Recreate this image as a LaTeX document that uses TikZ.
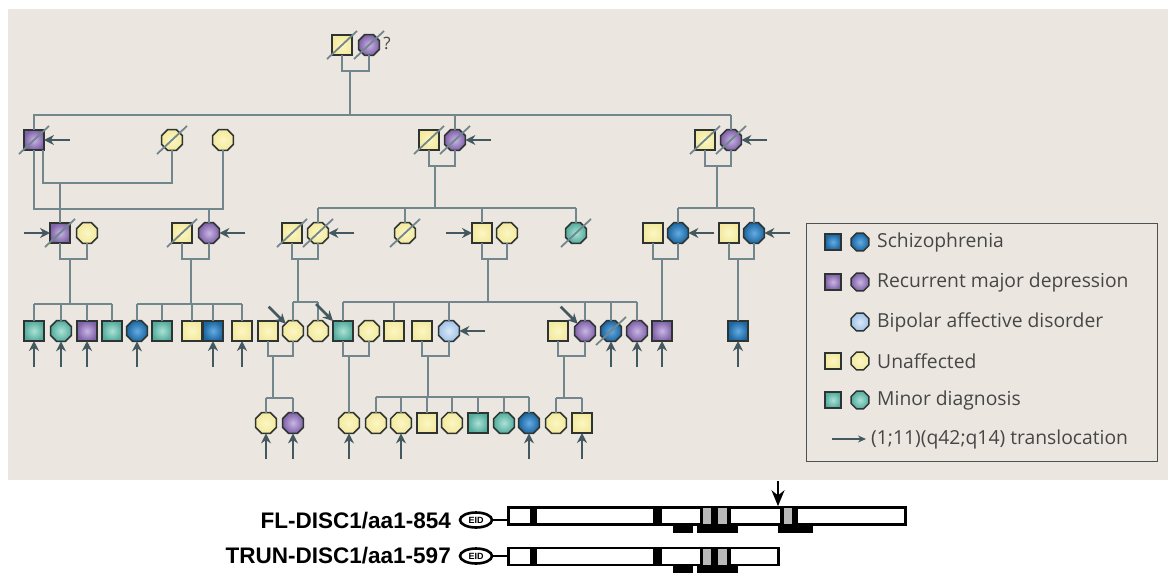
\documentclass[tikz,border=0pt]{standalone}
\usepackage{fontspec}
\setmainfont{Open Sans}
\newfontfamily\labfont{Liberation Sans}
\usetikzlibrary{shapes.geometric,calc,arrows.meta}
\definecolor{bgc}{RGB}{235,231,224}
\definecolor{lnc}{RGB}{114,134,142}
\definecolor{arc}{RGB}{68,88,96}
\definecolor{edgec}{RGB}{45,52,50}
\definecolor{yelI}{RGB}{252,247,195}
\definecolor{yelO}{RGB}{243,233,160}
\definecolor{purI}{RGB}{200,182,228}
\definecolor{purO}{RGB}{128,98,168}
\definecolor{tealI}{RGB}{172,226,214}
\definecolor{tealO}{RGB}{84,172,158}
\definecolor{bluI}{RGB}{100,172,226}
\definecolor{bluO}{RGB}{28,102,162}
\definecolor{lbI}{RGB}{218,232,248}
\definecolor{lbO}{RGB}{160,195,232}
\definecolor{txtc}{RGB}{70,70,70}
\newcommand{\dead}[1]{\draw[slash] ($(#1)+(-15,14)$) -- ($(#1)+(15,-14)$);}
\newcommand{\arR}[1]{\draw[tl] ($(#1.east)+(26,0)$) -- (#1.east);}
\newcommand{\arL}[1]{\draw[tl] ($(#1.west)+(-26,0)$) -- (#1.west);}
\newcommand{\arU}[1]{\draw[tl] ($(#1.south)+(0,26)$) -- (#1.south);}
\newcommand{\arD}[1]{\draw[tl] ($(#1.135)+(-17,-17)$) -- (#1.135);}
\newcommand{\mate}[3]{\draw[ln] (#1.south) -- (#1.south |- 0,#3) -| (#2.south);}
\newcommand{\drop}[2]{\draw[ln] (#1.north) -- (#1.north |- #2);}
\begin{document}
\begin{tikzpicture}[x=1pt,y=-1pt,
 sym/.style={draw=edgec, line width=1.5pt, inner sep=0pt, outer sep=0pt},
 sq/.style={sym, rectangle, minimum size=20pt},
 ci/.style={sym, regular polygon, regular polygon sides=8, minimum size=22.5pt},
 lsq/.style={sym, rectangle, minimum size=16pt},
 lci/.style={sym, regular polygon, regular polygon sides=8, minimum size=19pt},
 yel/.style={inner color=yelI, outer color=yelO},
 pur/.style={inner color=purI, outer color=purO},
 teal/.style={inner color=tealI, outer color=tealO},
 blu/.style={inner color=bluI, outer color=bluO},
 lbl/.style={inner color=lbI, outer color=lbO},
 ln/.style={draw=lnc, line width=2pt},
 tl/.style={draw=arc, line width=2.6pt, -{Stealth[length=10pt,width=10pt]}},
 slash/.style={draw=lnc, line width=1.8pt},
 legtext/.style={anchor=west, inner sep=0pt, text=txtc, font=\fontsize{19.3}{22}\selectfont},
 lab/.style={anchor=base east, inner sep=0pt, font=\labfont\bfseries\fontsize{22.5}{24}\selectfont},
 eid/.style={draw=black, ellipse, line width=2.6pt, minimum width=32pt, minimum height=15pt, inner sep=0pt, font=\labfont\bfseries\fontsize{9}{9}\selectfont},
 dbox/.style={draw=black, line width=2.6pt, fill=white, inner sep=0pt, minimum height=17pt, anchor=west},
]
\useasboundingbox (0,0) rectangle (1168,573);
\fill[white] (0,0) rectangle (1168,573);
\fill[bgc] (8,9) rectangle (1168,480);

% ---------- Generation I
\node[sq,yel] (g1a) at (342,45) {};
\node[ci,pur] (g1b) at (369,45) {};
\node[text=txtc, font=\fontsize{17}{20}\selectfont, inner sep=0pt] (q) at (387,43) {?};
\mate{g1a}{g1b}{71}
\coordinate (d1) at (350,71);
\coordinate (s1a) at (33,115); \coordinate (s1b) at (731,115);
\draw[ln] (d1) -- (d1 |- s1a);
\draw[ln] (s1a) -- (s1b);

% ---------- Generation II
\node[sq,pur] (g2a) at (34,140) {};
\node[ci,yel] (g2b) at (172,140) {};
\node[ci,yel] (g2c) at (223,140) {};
\node[sq,yel] (g2d) at (429,140) {};
\node[ci,pur] (g2e) at (455,140) {};
\node[sq,yel] (g2f) at (705,140) {};
\node[ci,pur] (g2g) at (731,140) {};
\drop{g2a}{s1a} \drop{g2e}{s1a} \drop{g2g}{s1a}

% ---------- Generation III
\node[sq,pur] (g3a) at (60,233) {};
\node[ci,yel] (g3b) at (87,233) {};
\node[sq,yel] (g3c) at (182,233) {};
\node[ci,pur] (g3d) at (209,233) {};
\node[sq,yel] (g3e) at (292,233) {};
\node[ci,yel] (g3f) at (318,233) {};
\node[ci,yel] (g3g) at (405,233) {};
\node[sq,yel] (g3h) at (482,233) {};
\node[ci,yel] (g3i) at (507,233) {};
\node[ci,teal] (g3j) at (576,233) {};
\node[sq,yel] (g3k) at (653,233) {};
\node[ci,blu] (g3l) at (678,233) {};
\node[sq,yel] (g3m) at (729,233) {};
\node[ci,blu] (g3n) at (754,233) {};

% gen II marriages
\coordinate (pa) at ($(g2a.south east)+(-1,0)$);
\draw[ln] (pa) -- (pa |- 0,183) -| (g2b.south);
\draw[ln] (g2a.south) -- (g2a.south |- 0,209) -| (g2c.south);
\coordinate (d2) at (60,183);
\draw[ln] (d2) -- (g3a.north);
\coordinate (d3) at (209,209);
\draw[ln] (d3) -- (g3d.north);
\mate{g2d}{g2e}{166}
\coordinate (d4) at (435,166);
\coordinate (s2a) at (318,208); \coordinate (s2b) at (576,208);
\draw[ln] (d4) -- (d4 |- s2a);
\draw[ln] (s2a) -- (s2b);
\drop{g3f}{s2a} \drop{g3g}{s2a} \drop{g3h}{s2a} \drop{g3j}{s2a}
\mate{g2f}{g2g}{166}
\coordinate (d5) at (717,166);
\coordinate (s3a) at (678,208); \coordinate (s3b) at (754,208);
\draw[ln] (d5) -- (d5 |- s3a);
\draw[ln] (s3a) -- (s3b);
\drop{g3l}{s3a} \drop{g3n}{s3a}

% ---------- Generation IV
\node[sq,teal] (g4a) at (34,331) {};
\node[ci,teal] (g4b) at (61,331) {};
\node[sq,pur] (g4c) at (87,331) {};
\node[sq,teal] (g4d) at (112,331) {};
\node[ci,blu] (g4e) at (137,331) {};
\node[sq,teal] (g4f) at (162,331) {};
\node[sq,yel] (g4g) at (192,331) {};
\node[sq,blu] (g4h) at (213,331) {};
\node[sq,yel] (g4i) at (242,331) {};
\node[sq,yel] (g4j) at (268,331) {};
\node[ci,yel] (g4k) at (293,331) {};
\node[ci,yel] (g4l) at (318,331) {};
\node[sq,teal] (g4m) at (343,331) {};
\node[ci,yel] (g4n) at (369,331) {};
\node[sq,yel] (g4o) at (394,331) {};
\node[sq,yel] (g4p) at (422,331) {};
\node[ci,lbl] (g4q) at (449,331) {};
\node[sq,yel] (g4r) at (558,331) {};
\node[ci,pur] (g4s) at (585,331) {};
\node[ci,blu] (g4t) at (611,331) {};
\node[ci,pur] (g4u) at (637,331) {};
\node[sq,pur] (g4v) at (662,331) {};
\node[sq,blu] (g4w) at (738,331) {};

% gen III marriages
\mate{g3a}{g3b}{259}
\coordinate (d6) at (70,259);
\coordinate (s4a) at (34,304); \coordinate (s4b) at (112,304);
\draw[ln] (d6) -- (d6 |- s4a);
\draw[ln] (s4a) -- (s4b);
\drop{g4a}{s4a} \drop{g4b}{s4a} \drop{g4c}{s4a} \drop{g4d}{s4a}
\mate{g3c}{g3d}{259}
\coordinate (d7) at (191,259);
\coordinate (s5a) at (137,304); \coordinate (s5b) at (242,304);
\draw[ln] (d7) -- (d7 |- s5a);
\draw[ln] (s5a) -- (s5b);
\drop{g4e}{s5a} \drop{g4f}{s5a} \drop{g4g}{s5a} \drop{g4h}{s5a} \drop{g4i}{s5a}
\mate{g3e}{g3f}{259}
\coordinate (d8) at (298,259);
\coordinate (s6a) at (293,302); \coordinate (s6b) at (318,302);
\draw[ln] (d8) -- (d8 |- s6a);
\draw[ln] (s6a) -- (s6b);
\drop{g4k}{s6a} \drop{g4l}{s6a}
\mate{g3h}{g3i}{259}
\coordinate (d9) at (488,259);
\coordinate (s7a) at (343,302); \coordinate (s7b) at (637,302);
\draw[ln] (d9) -- (d9 |- s7a);
\draw[ln] (s7a) -- (s7b);
\drop{g4m}{s7a} \drop{g4o}{s7a} \drop{g4q}{s7a} \drop{g4s}{s7a} \drop{g4t}{s7a} \drop{g4u}{s7a}
\mate{g3k}{g3l}{259}
\coordinate (d10) at (662,259);
\draw[ln] (d10) -- (g4v.north);
\mate{g3m}{g3n}{259}
\coordinate (d11) at (738,259);
\draw[ln] (d11) -- (g4w.north);

% ---------- Generation V
\node[ci,yel] (g5a) at (266,423) {};
\node[ci,pur] (g5b) at (293,423) {};
\node[ci,yel] (g5c) at (349,423) {};
\node[ci,yel] (g5d) at (376,423) {};
\node[ci,yel] (g5e) at (401,423) {};
\node[sq,yel] (g5f) at (427,423) {};
\node[ci,yel] (g5g) at (452,423) {};
\node[sq,teal] (g5h) at (478,423) {};
\node[ci,teal] (g5i) at (504,423) {};
\node[ci,blu] (g5j) at (529,423) {};
\node[ci,yel] (g5k) at (556,423) {};
\node[sq,yel] (g5l) at (582,423) {};

% gen IV marriages
\mate{g4j}{g4k}{356}
\coordinate (d12) at (273,356);
\coordinate (s8a) at (266,398); \coordinate (s8b) at (293,398);
\draw[ln] (d12) -- (d12 |- s8a);
\draw[ln] (s8a) -- (s8b);
\drop{g5a}{s8a} \drop{g5b}{s8a}
\mate{g4m}{g4n}{356}
\coordinate (d13) at (349,356);
\draw[ln] (d13) -- (g5c.north);
\mate{g4p}{g4q}{356}
\coordinate (d14) at (428,356);
\coordinate (s9a) at (376,397); \coordinate (s9b) at (529,397);
\draw[ln] (d14) -- (d14 |- s9a);
\draw[ln] (s9a) -- (s9b);
\drop{g5d}{s9a} \drop{g5e}{s9a} \drop{g5f}{s9a} \drop{g5g}{s9a} \drop{g5h}{s9a} \drop{g5i}{s9a} \drop{g5j}{s9a}
\mate{g4r}{g4s}{356}
\coordinate (d15) at (564,356);
\coordinate (s10a) at (556,398); \coordinate (s10b) at (582,398);
\draw[ln] (d15) -- (d15 |- s10a);
\draw[ln] (s10a) -- (s10b);
\drop{g5k}{s10a} \drop{g5l}{s10a}

% ---------- deceased
\dead{g1a} \dead{g1b} \dead{g2a} \dead{g2b} \dead{g2d} \dead{g2e} \dead{g2f} \dead{g2g}
\dead{g3a} \dead{g3c} \dead{g3e} \dead{g3f} \dead{g3g} \dead{g3j} \dead{g4t}

% ---------- translocation arrows
\arR{g2a} \arR{g2e} \arR{g2g} \arR{g3d} \arR{g3f} \arR{g3l} \arR{g3n} \arR{g4q}
\arL{g3a} \arL{g3h}
\arU{g4a} \arU{g4b} \arU{g4c} \arU{g4e} \arU{g4h} \arU{g4i} \arU{g4t} \arU{g4u} \arU{g4v} \arU{g4w}
\arU{g5a} \arU{g5b} \arU{g5c} \arU{g5e} \arU{g5j} \arU{g5l}
\arD{g4k} \arD{g4m} \arD{g4s}

% ---------- legend
\node[draw=edgec!85, line width=1.4pt, minimum width=351pt, minimum height=238pt, inner sep=0pt, anchor=north west] (leg) at (806,223) {};
\node[lsq,blu] (k1a) at (833,242) {}; \node[lci,blu] (k1b) at (860,242) {};
\node[legtext] (k1t) at (877,242) {Schizophrenia};
\node[lsq,pur] (k2a) at (833,282) {}; \node[lci,pur] (k2b) at (860,282) {};
\node[legtext] (k2t) at (877,282) {Recurrent major depression};
\node[lci,lbl] (k3b) at (860,322) {};
\node[legtext] (k3t) at (877,322) {Bipolar affective disorder};
\node[lsq,yel] (k4a) at (833,361) {}; \node[lci,yel] (k4b) at (860,361) {};
\node[legtext] (k4t) at (877,361) {Unaffected};
\node[lsq,teal] (k5a) at (833,400) {}; \node[lci,teal] (k5b) at (860,400) {};
\node[legtext] (k5t) at (877,400) {Minor diagnosis};
\coordinate (k6a) at (832,439); \coordinate (k6b) at (866,439);
\draw[draw=arc, line width=1.6pt, -{Stealth[length=8pt,width=7pt]}] (k6a) -- (k6b);
\node[legtext] (k6t) at (871,439) {(1;11)(q42;q14) translocation};

% ---------- DISC1 constructs
\node[lab] (t1) at (451,528) {FL-DISC1/aa1-854};
\node[lab] (t2) at (451,563) {TRUN-DISC1/aa1-597};
\node[eid] (e1) at (476,520) {EID};
\node[eid] (e2) at (476,556) {EID};
\node[dbox, minimum width=397pt] (b1) at (507,516) {};
\node[dbox, minimum width=270pt] (b2) at (507,556.5) {};
\draw[black, line width=2.2pt] (e1.east) -- (b1.west |- e1.east);
\draw[black, line width=2.2pt] (e2.east) -- (b2.west |- e2.east);
% internal bars, row 1
\fill[black] (530,508) rectangle (537,524);
\fill[black] (653,508) rectangle (662,524);
\fill[black] (700,508) rectangle (703,524);
\fill[gray!55] (703,508) rectangle (711,524);
\fill[black] (711,508) rectangle (718,524);
\fill[gray!55] (718,508) rectangle (727,524);
\fill[black] (727,508) rectangle (731,524);
\fill[black] (780,508) rectangle (784,524);
\fill[gray!55] (784,508) rectangle (792,524);
\fill[black] (792,508) rectangle (798,524);
\fill[black] (673,525) rectangle (693,533);
\fill[black] (697,525) rectangle (738,533);
\fill[black] (778,525) rectangle (813,533);
% internal bars, row 2
\fill[black] (530,549) rectangle (537,565);
\fill[black] (653,549) rectangle (662,565);
\fill[black] (700,549) rectangle (703,565);
\fill[gray!55] (703,549) rectangle (711,565);
\fill[black] (711,549) rectangle (718,565);
\fill[gray!55] (718,549) rectangle (727,565);
\fill[black] (727,549) rectangle (731,565);
\fill[black] (673,566) rectangle (693,573);
\fill[black] (697,566) rectangle (738,573);
% arrow
\coordinate (ka) at (778,481);
\draw[black, line width=1.5pt, -{Stealth[length=16pt,width=13pt]}] (ka) -- (ka |- b1.north);
\end{tikzpicture}
\end{document}
